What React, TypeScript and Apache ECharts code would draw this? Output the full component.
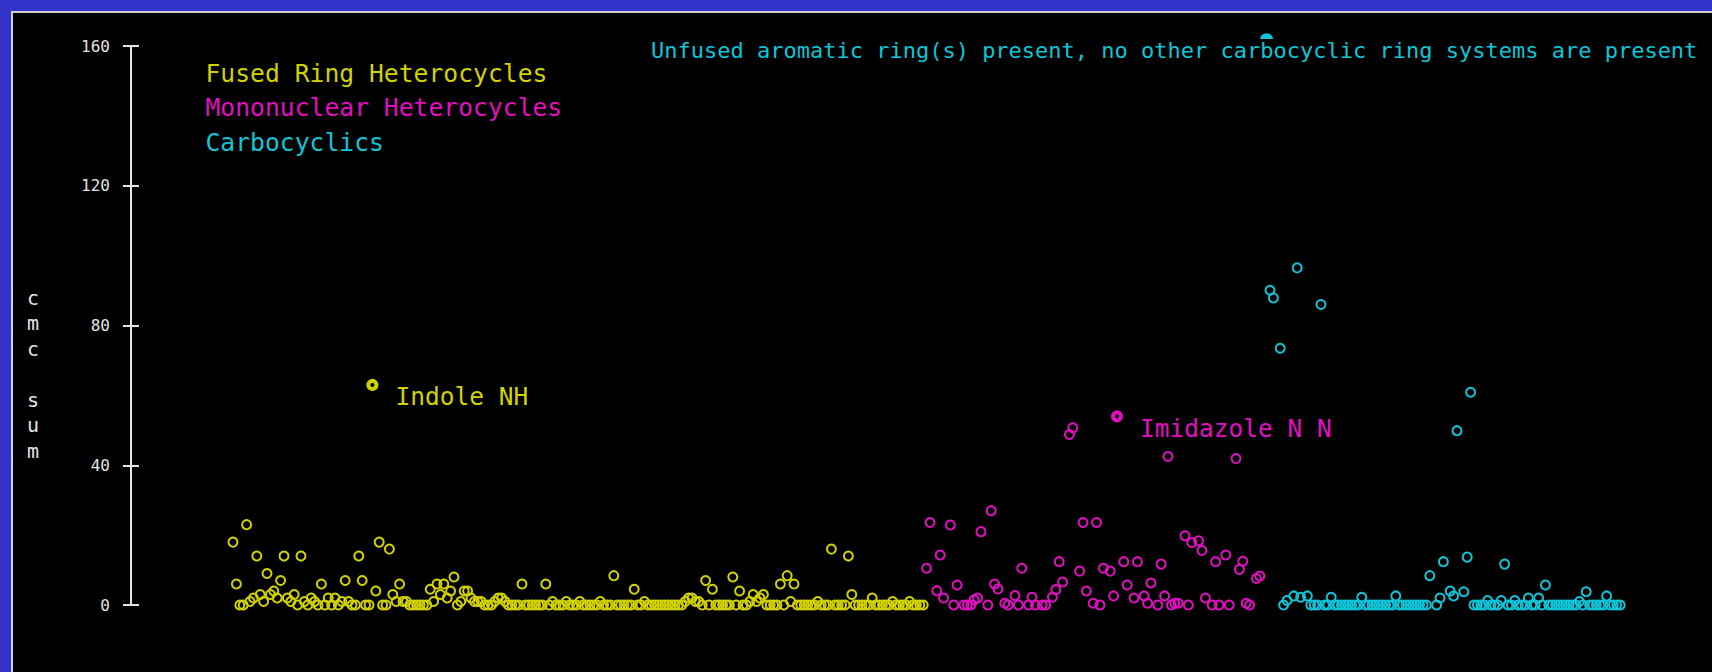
import React, { useEffect, useRef } from "react";
import * as echarts from "echarts";

// ---------- data ----------
const yTicks = [0, 40, 80, 120, 160];
const seriesNames = ["Fused Ring Heterocycles", "Mononuclear Heterocycles", "Carbocyclics"];
const seriesColors = ["#d2d200", "#e010c0", "#10c4d8"];
const yAxisLetters = ["c", "m", "c", " ", "s", "u", "m"];
const topNote = "Unfused aromatic ring(s) present, no other carbocyclic ring systems are present";

// compound index of the first value of each group
const fusedStart = 0;
const fusedValues: (number | null)[] = [
  18, 6, 0, 0, 23, 1, 2, 14, 3, 1,
  9, 3, 4, 2, 7, 14, 2, 1, 3, 0,
  14, 1, 0, 2, 1, 0, 6, 0, 2, 0,
  2, 0, 1, 7, 1, 0, 0, 14, 7, 0,
  0, 63, 4, 18, 0, 0, 16, 3, 1, 6,
  1, 1, 0, 0, 0, 0, 0, 0, 4.5, 1,
  6, 3, 6, 2, 4, 8, 0, 1, 4, 4,
  2, 1, 1, 1, 0, 0, 0, 1, 2, 2,
  1, 0, 0, 0, 0, 6, 0, 0, 0, 0,
  0, 0, 6, 0, 1, 0, 0, 0, 1, 0,
  0, 0, 1, 0, 0, 0, 0, 0, 1, 0,
  0, 0, 8.4, 0, 0, 0, 0, 0, 4.5, 0,
  0, 1, 0, 0, 0, 0, 0, 0, 0, 0,
  0, 0, 0, 1, 2, 2, 1, 1, 0, 7,
  0, 4.5, 0, 0, 0, 0, 0, 8, 0, 4,
  0, 0, 1, 3, 1, 2, 3, 0, 0, 0,
  0, 6, 0, 8.4, 1, 6, 0, 0, 0, 0,
  0, 0, 1, 0, 0, 0, 16, 0, 0, 0,
  0, 14, 3, 0, 0, 0, 0, 0, 2, 0,
  0, 0, 0, 0, 1, 0, 0, 0, 0, 1,
  0, 0, 0, 0,
];

const monoStart = 204;
const monoValues: (number | null)[] = [
  10.5, 23.6, null, 4.1, 14.3, 2, null, 22.9, 0, 5.7,
  null, 0, 0, 0, 1.5, 2, 21, null, 0, 27,
  6, 4.6, null, 0.5, 0, null, 2.7, 0, 10.5, null,
  0, 2.2, 0, null, 0, 0, null, 2.2, 4.4, 12.4,
  6.6, null, 48.8, 50.7, null, 9.7, 23.6, 4, null, 0.5,
  23.6, 0, 10.5, null, 9.7, 2.6, 54, null, 12.4, 5.7,
  null, 2, 12.4, null, 2.6, 0.5, 6.3, null, 0, 11.7,
  2.6, 42.5, 0, 0.5, 0.5, null, 19.8, 0, 17.9, null,
  18.4, 15.6, 2, null, 0, 12.4, 0, null, 14.3, 0,
  null, 41.9, 10.2, 12.5, 0.5, 0, null, 7.6, 8.3,
];

const carboStart = 303;
const carboValues: (number | null)[] = [
  null, 161.8, 90.1, 87.9, null, 73.5, 0, 1.3, null, 2.6,
  96.5, 2.2, null, 2.6, 0, 0, 0, 86, 0, 0,
  2.2, 0, 0, 0, 0, 0, 0, 0, 0, 2.2,
  0, 0, 0, 0, 0, 0, 0, 0, 0, 2.6,
  0, 0, 0, 0, 0, 0, 0, 0, 0, 8.4,
  null, 0, 2, 12.4, null, 4, 2.6, 49.9, null, 3.8,
  13.7, 60.9, 0, 0, 0, 0, 1.3, 0, 0, 0,
  1.3, 11.7, 0, 0, 1.3, 0, 0, 0, 2, 0,
  0, 2, 0, 5.7, 0, 0, 0, 0, 0, 0,
  0, 0, 0, 1, 0, 3.8, 0, 0, 0, 0,
  0, 2.6, 0, 0, 0, 0,
];

const annotations = [
  { index: 41, label: "Indole NH" },
  { index: 260, label: "Imidazole N N" },
];
// the off-scale carbocyclic point, partly hidden behind the note
const filledIndex = 304;

const MONO = '"DejaVu Sans Mono", "Liberation Mono", monospace';
const AXIS_COLOR = "#e4e4e4";

function buildData(start: number, values: (number | null)[], color: string) {
  const out: any[] = [];
  values.forEach((v, i) => {
    if (v === null) return;
    const x = start + i;
    const ann = annotations.find((a) => a.index === x);
    if (ann) {
      out.push({
        value: [x, v],
        symbolSize: 8,
        itemStyle: { color: "#000", borderColor: color, borderWidth: 4, opacity: 1 },
        label: {
          show: true,
          formatter: ann.label,
          position: "right",
          distance: 17,
          offset: [0, 12],
          color,
          fontSize: 24.5,
          fontFamily: MONO,
        },
      });
    } else if (x === filledIndex) {
      out.push({ value: [x, v], symbolSize: 11, itemStyle: { color, borderColor: color, opacity: 1 } });
    } else {
      out.push([x, v]);
    }
  });
  return out;
}

export default function App() {
  const ref = useRef<HTMLDivElement>(null);

  useEffect(() => {
    if (!ref.current) return;
    const chart = echarts.init(ref.current, undefined, { renderer: "svg" });
    const groups = [
      { start: fusedStart, values: fusedValues },
      { start: monoStart, values: monoValues },
      { start: carboStart, values: carboValues },
    ];
    const yMin = yTicks[0];
    const yMax = yTicks[yTicks.length - 1];
    const interval = yTicks[1] - yTicks[0];

    chart.setOption({
      animation: false,
      backgroundColor: "transparent",
      grid: { left: 131, right: 0, top: 46, bottom: 67, containLabel: false },
      xAxis: { type: "value", min: -30, max: 435, show: false },
      yAxis: [
        {
          type: "value",
          min: yMin,
          max: yMax,
          interval,
          position: "left",
          axisLine: { show: true, onZero: false, lineStyle: { color: AXIS_COLOR, width: 2 } },
          axisTick: { show: true, length: 8, lineStyle: { color: AXIS_COLOR, width: 2 } },
          axisLabel: { color: AXIS_COLOR, fontSize: 16, fontFamily: MONO, margin: 21 },
          splitLine: { show: false },
        },
        {
          type: "value",
          min: yMin,
          max: yMax,
          interval,
          position: "left",
          offset: 0,
          axisLine: { show: false, onZero: false },
          axisTick: { show: true, inside: true, length: 8, lineStyle: { color: AXIS_COLOR, width: 2 } },
          axisLabel: { show: false },
          splitLine: { show: false },
        },
      ],
      legend: {
        orient: "vertical",
        left: 194.5,
        top: 55.5,
        icon: "rect",
        itemWidth: 0,
        itemHeight: 0,
        itemGap: 9.5,
        selectedMode: false,
        itemStyle: { opacity: 0 },
        textStyle: { fontSize: 24.7, lineHeight: 24, fontFamily: MONO },
        data: seriesNames.map((n, i) => ({ name: n, textStyle: { color: seriesColors[i] } })),
      },
      series: groups.map((g, i) => ({
        type: "scatter",
        name: seriesNames[i],
        data: buildData(g.start, g.values, seriesColors[i]),
        symbol: "circle",
        symbolSize: 9,
        itemStyle: { color: "rgba(0,0,0,0)", borderColor: seriesColors[i], borderWidth: 2, opacity: 1 },
        clip: false,
        silent: true,
        emphasis: { disabled: true },
        z: 3,
      })),
      graphic: [
        {
          type: "text",
          z: 100,
          style: {
            text: yAxisLetters.join("\n"),
            x: 33,
            y: 285,
            fill: AXIS_COLOR,
            fontSize: 20,
            fontFamily: MONO,
            lineHeight: 25.5,
            textAlign: "center",
            align: "center",
            textVerticalAlign: "top",
            verticalAlign: "top",
          },
        },
        {
          type: "text",
          z: 100,
          style: {
            text: topNote,
            x: 651,
            y: 50,
            fill: seriesColors[2],
            fontSize: 22,
            fontFamily: MONO,
            lineHeight: 20,
            backgroundColor: "#000",
            padding: [1, 0],
            textAlign: "left",
            align: "left",
            textVerticalAlign: "middle",
            verticalAlign: "middle",
          },
        },
      ],
    });
    return () => chart.dispose();
  }, []);

  return (
    <div style={{ position: "fixed", left: 0, top: 0, width: 1712, height: 672, background: "#3333cc", overflow: "hidden" }}>
      <div
        style={{
          position: "absolute",
          left: 11,
          top: 11,
          right: 0,
          bottom: 0,
          background: "#000",
          borderLeft: "2px solid #d0d0d0",
          borderTop: "2px solid #d0d0d0",
        }}
      />
      <div ref={ref} style={{ position: "absolute", left: 0, top: 0, width: 1712, height: 672 }} />
    </div>
  );
}
